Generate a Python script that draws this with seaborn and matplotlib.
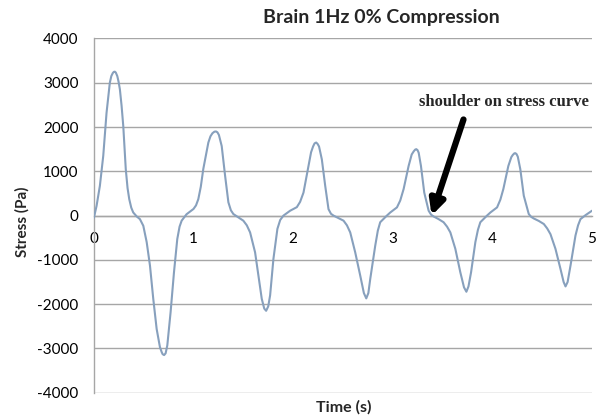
import matplotlib
matplotlib.use("Agg")
import matplotlib.pyplot as plt
import seaborn as sns
import pandas as pd

# Stress response of brain tissue under 1 Hz oscillation, 0% pre-compression
time_s = [
    0.00, 0.027, 0.06, 0.094, 0.127, 0.16, 0.175, 0.19, 0.20, 0.21, 0.22, 0.235,
    0.248, 0.261, 0.278, 0.295, 0.32, 0.338, 0.355, 0.375, 0.395, 0.43, 0.462,
    0.496, 0.53, 0.563, 0.596, 0.63, 0.663, 0.68, 0.69, 0.705, 0.72, 0.737, 0.77,
    0.804, 0.837, 0.86, 0.881, 0.93, 0.965,
    1.00, 1.025, 1.048, 1.073, 1.098, 1.149, 1.17, 1.19, 1.21, 1.226, 1.24, 1.255,
    1.283, 1.317, 1.35, 1.375, 1.40, 1.45, 1.50, 1.535, 1.568, 1.618, 1.651,
    1.685, 1.71, 1.729, 1.75, 1.769, 1.802, 1.842, 1.87, 1.903, 1.97,
    2.037, 2.07, 2.104, 2.154, 2.18, 2.20, 2.215, 2.231, 2.245, 2.26, 2.288,
    2.322, 2.355, 2.38, 2.405, 2.45, 2.506, 2.54, 2.573, 2.623, 2.673, 2.71,
    2.734, 2.755, 2.774, 2.824, 2.85, 2.874, 2.941, 2.975,
    3.042, 3.075, 3.109, 3.159, 3.19, 3.21, 3.225, 3.236, 3.248, 3.26, 3.283,
    3.316, 3.36, 3.385, 3.41, 3.46, 3.51, 3.545, 3.578, 3.628, 3.678, 3.715,
    3.739, 3.76, 3.786, 3.829, 3.855, 3.879, 3.946, 3.98,
    4.047, 4.08, 4.11, 4.16, 4.19, 4.205, 4.22, 4.23, 4.242, 4.255, 4.28, 4.315,
    4.365, 4.39, 4.415, 4.465, 4.516, 4.55, 4.583, 4.633, 4.683, 4.715, 4.734,
    4.755, 4.784, 4.834, 4.86, 4.884, 4.935, 5.00,
]
stress_pa = [
    -50, 220, 670, 1350, 2320, 3000, 3150, 3220, 3245, 3250, 3230, 3150,
    3020, 2850, 2480, 2020, 1050, 620, 370, 180, 70, -20, -80,
    -230, -600, -1130, -1880, -2560, -2970, -3080, -3130, -3150, -3110, -2930, -2180,
    -1280, -530, -250, -115, 30, 90,
    150, 230, 370, 650, 1050, 1650, 1790, 1860, 1895, 1900, 1880, 1820,
    1570, 900, 300, 120, 35, -40, -115, -220, -380, -830, -1350,
    -1880, -2100, -2150, -2050, -1800, -980, -300, -100, 0, 110,
    190, 310, 520, 1120, 1430, 1560, 1630, 1650, 1620, 1560, 1270,
    670, 145, 40, 0, -50, -115, -220, -380, -830, -1350, -1750,
    -1870, -1750, -1430, -680, -340, -150, 0, 70,
    185, 340, 600, 1120, 1380, 1450, 1490, 1500, 1480, 1420, 1120,
    520, 110, 20, -20, -80, -150, -250, -380, -750, -1280, -1620,
    -1720, -1600, -1280, -600, -320, -150, 0, 70,
    185, 360, 600, 1120, 1320, 1370, 1405, 1410, 1390, 1330, 1050, 450,
    35, -30, -65, -120, -190, -290, -420, -750, -1200, -1500, -1600,
    -1500, -1130, -450, -220, -80, 10, 110,
]

y_ticks = [-4000, -3000, -2000, -1000, 0, 1000, 2000, 3000, 4000]
x_ticks = [0, 1, 2, 3, 4, 5]

# Where the shoulder arrow points and where its caption sits
shoulder_tip = (3.39, 0)
shoulder_tail = (3.71, 2170)
shoulder_text = "shoulder on stress curve"
shoulder_text_pos = (4.12, 2560)

df = pd.DataFrame({"Time (s)": time_s, "Stress (Pa)": stress_pa})

sns.set_style("white")
plt.rcParams["font.family"] = ["Lato", "DejaVu Sans"]
plt.rcParams["axes.unicode_minus"] = False

fig = plt.figure(figsize=(5.98, 4.18), dpi=100)
ax = fig.add_axes([0.157, 0.0605, 0.833, 0.8475])

grid_color = "#a6a6a6"
sns.lineplot(data=df, x="Time (s)", y="Stress (Pa)", ax=ax,
             color="#87a0bd", linewidth=1.5, zorder=3)

ax.set_xlim(0, 5)
ax.set_ylim(-4000, 4000)
ax.set_yticks(y_ticks)
ax.set_xticks(x_ticks)
ax.set_yticklabels([str(v) for v in y_ticks])
ax.set_xticklabels([str(v) for v in x_ticks])

# Horizontal gridlines only, Excel-style
ax.yaxis.grid(True, color=grid_color, linewidth=1.0)
ax.xaxis.grid(False)
ax.set_axisbelow(True)

for side in ("top", "right"):
    ax.spines[side].set_visible(False)
ax.spines["left"].set_color(grid_color)
ax.spines["left"].set_linewidth(1.0)
ax.spines["bottom"].set_position(("data", 0))
ax.spines["bottom"].set_color(grid_color)
ax.spines["bottom"].set_linewidth(1.0)

ax.tick_params(axis="both", length=0, labelsize=11, colors="black")
ax.tick_params(axis="y", pad=11)
ax.tick_params(axis="x", pad=12)

ax.set_xlabel("")
ax.set_ylabel("")
fig.text(0.574, 0.025, "Time (s)", ha="center", va="center",
         fontsize=11.5, fontweight="bold")
fig.text(0.038, 0.47, "Stress (Pa)", ha="center", va="center",
         rotation=90, fontsize=11, fontweight="bold")
fig.text(0.637, 0.958, "Brain 1Hz 0% Compression", ha="center", va="center",
         fontsize=14, fontweight="bold")

ax.annotate("", xy=shoulder_tip, xytext=shoulder_tail,
            arrowprops=dict(arrowstyle="-|>", color="black", lw=4.5,
                            mutation_scale=22, shrinkA=0, shrinkB=0),
            zorder=5)
ax.text(shoulder_text_pos[0], shoulder_text_pos[1], shoulder_text,
        ha="center", va="center", fontsize=12, fontweight="bold",
        family=["Liberation Serif", "DejaVu Serif"], zorder=5)

fig.savefig("out.png", dpi=100)
